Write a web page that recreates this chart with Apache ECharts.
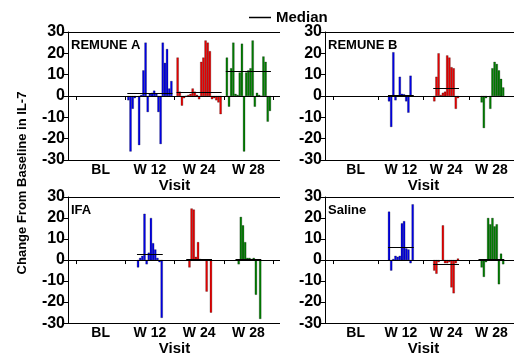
<!DOCTYPE html>
<html>
<head>
<meta charset="utf-8">
<script src="https://cdn.jsdelivr.net/npm/echarts@6/dist/echarts.min.js"></script>
<style>
  html, body { margin: 0; padding: 0; background: #fff; }
  #main { width: 514px; height: 357px; }
</style>
</head>
<body>
<div id="main"></div>
<script>
// categories
const visits = ['BL', 'W 12', 'W 24', 'W 28'];
const visitColors = [null, '#0000ee', '#ee0000', '#008000'];

// change from baseline per subject, one slot per subject (null = no value)
const remuneA_w12 = [-2, -26, -6, -1, null, -23, 0.5, 12, 25, -7.5, 1, 1.5, 2.5, 1, -7.5, -22.5, 25, 15.5, 22, 3.5, 7];
const remuneA_w24 = [18, 2, -4.5, -1, 0, 0.5, 1, 3.5, 2, 0.5, -1.5, 16, 18, 26, 25, 21, -1.5, -1, -2, -3, -8.5];
const remuneA_w28 = [18, -5, 13, 25, 1, 0.5, 11, 24.5, -26, 11, 12, 13, 26, -5, 1.5, 0.5, 0, 18.5, 16, -12, -7];
const remuneA_median = [1.5, 2, 11.5];

const remuneB_w12 = [-2.5, -14.5, 20.5, -2, 0.3, 9, 1, 0.8, -2.5, -7.8, 9.5, null];
const remuneB_w24 = [-2.5, 9, 20, 0.5, 1.5, 2, 19, 18, 13.5, 13, -6, -1];
const remuneB_w28 = [null, -3, -15, -1, null, -6, 13, 16, 15, 12, 8, 4];
const remuneB_median = [0.5, 3.6, 0];

const ifa_w12 = [-3.5, 1, 2, 22, -2, 3.5, 20, 8, 5, 1, -1, -27.5];
const ifa_w24 = [null, -3.5, 24.5, 24, 1.5, 8.5, 0.5, null, null, -15, null, -25];
const ifa_w28 = [null, -2, 20.5, 16.5, 8.5, 1, 1, 0.5, 1, -16.5, null, -28];
const ifa_median = [2.9, 0.5, 0.7];

const saline_w12 = [23, -5, 0.5, 2, 1.5, 2, 17.5, 18.5, 5.5, 5, -1.5, 26.5];
const saline_w24 = [-5, -6.5, -1, null, 16.5, -1.5, -1.5, -1, -13, -15.8, -1.5, 0.7];
const saline_w28 = [null, -3.5, -8, -1, 20, 17, 20, 16, 17, -11.5, 3, -2];
const saline_median = [6.2, -1.9, 0.5];

const panels = [
  { title: 'REMUNE A', w12: remuneA_w12, w24: remuneA_w24, w28: remuneA_w28, median: remuneA_median },
  { title: 'REMUNE B', w12: remuneB_w12, w24: remuneB_w24, w28: remuneB_w28, median: remuneB_median },
  { title: 'IFA', w12: ifa_w12, w24: ifa_w24, w28: ifa_w28, median: ifa_median },
  { title: 'Saline', w12: saline_w12, w24: saline_w24, w28: saline_w28, median: saline_median }
];

const grids = [
  { left: 76, top: 32, width: 197, height: 128 },
  { left: 333, top: 32, width: 197, height: 128 },
  { left: 76, top: 197, width: 197, height: 130 },
  { left: 333, top: 197, width: 197, height: 130 }
];

const BAR_W = 2.15;
const FONT = '"Liberation Sans", Arial, sans-serif';

const chart = echarts.init(document.getElementById('main'));

const series = [];
panels.forEach((p, k) => {
  const n = p.w12.length;
  for (let i = 0; i < n; i++) {
    series.push({
      type: 'bar',
      xAxisIndex: k,
      yAxisIndex: k,
      barWidth: BAR_W,
      barGap: '0%',
      silent: true,
      data: [null, p.w12[i], p.w24[i], p.w28[i]],
      itemStyle: {
        color: (d) => visitColors[d.dataIndex],
        borderColor: '#000',
        borderWidth: 0.25
      }
    });
  }
  // median segment spans the group of bars of each visit
  series.push({
    type: 'custom',
    name: 'Median',
    xAxisIndex: k,
    yAxisIndex: k,
    z: 5,
    silent: true,
    itemStyle: { color: '#000' },
    data: p.median.map((m, j) => [j + 1, m]),
    renderItem: (params, api) => {
      const c = api.coord([api.value(0), api.value(1)]);
      const half = n * BAR_W / 2;
      const y = Math.round(c[1]) + 0.5;
      return {
        type: 'line',
        shape: { x1: c[0] - half, y1: y, x2: c[0] + half, y2: y },
        style: { stroke: '#000', lineWidth: 1 }
      };
    }
  });
});

const option = {
  animation: false,
  backgroundColor: '#fff',
  legend: {
    data: ['Median'],
    top: 5,
    left: 244,
    icon: 'rect',
    itemWidth: 22,
    itemHeight: 1.5,
    textStyle: { fontFamily: FONT, fontWeight: 'bold', fontSize: 15, color: '#000' }
  },
  title: panels.map((p, k) => ({
    text: p.title,
    left: grids[k].left - 5,
    top: grids[k].top + 7,
    padding: 0,
    textStyle: { fontFamily: FONT, fontWeight: 'bold', fontSize: 13, color: '#000' }
  })),
  grid: grids,
  xAxis: grids.map((g, k) => ({
    type: 'category',
    gridIndex: k,
    data: visits,
    boundaryGap: true,
    axisLine: { show: false },
    axisTick: { show: true, length: 4, lineStyle: { color: '#000' } },
    axisLabel: { fontFamily: FONT, fontWeight: 'bold', fontSize: 14, color: '#000', margin: 3 },
    name: 'Visit',
    nameLocation: 'middle',
    nameGap: 16,
    nameTextStyle: { fontFamily: FONT, fontWeight: 'bold', fontSize: 15, color: '#000' },
    splitLine: { show: false }
  })),
  yAxis: grids.map((g, k) => ({
    type: 'value',
    gridIndex: k,
    min: -30,
    max: 30,
    interval: 10,
    offset: 8,
    axisLine: { show: true, lineStyle: { color: '#000', width: 1 } },
    axisTick: { show: true, length: 4, lineStyle: { color: '#000' } },
    axisLabel: { fontFamily: FONT, fontWeight: 'bold', fontSize: 16, color: '#000', margin: 3 },
    splitLine: { show: false }
  })),
  series: series
};

chart.setOption(option);

// frame lines: top border, zero line and bottom axis, running from the y axis
const graphics = [];
grids.forEach((g, k) => {
  const x0 = g.left - 8;
  const x1 = g.left + g.width + 7;
  [30, 0, -30].forEach((v) => {
    const y = Math.round(chart.convertToPixel({ yAxisIndex: k }, v)) + 0.5;
    graphics.push({
      type: 'line',
      z: 10,
      silent: true,
      shape: { x1: x0, y1: y, x2: x1, y2: y },
      style: { stroke: '#000', lineWidth: 1 }
    });
  });
});
graphics.push({
  type: 'text',
  x: 22,
  y: 183,
  rotation: Math.PI / 2,
  silent: true,
  style: {
    text: 'Change From Baseline in IL-7',
    fill: '#000',
    font: 'bold 13px ' + FONT,
    textAlign: 'center',
    textVerticalAlign: 'middle'
  }
});
chart.setOption({ graphic: graphics });
</script>
</body>
</html>
